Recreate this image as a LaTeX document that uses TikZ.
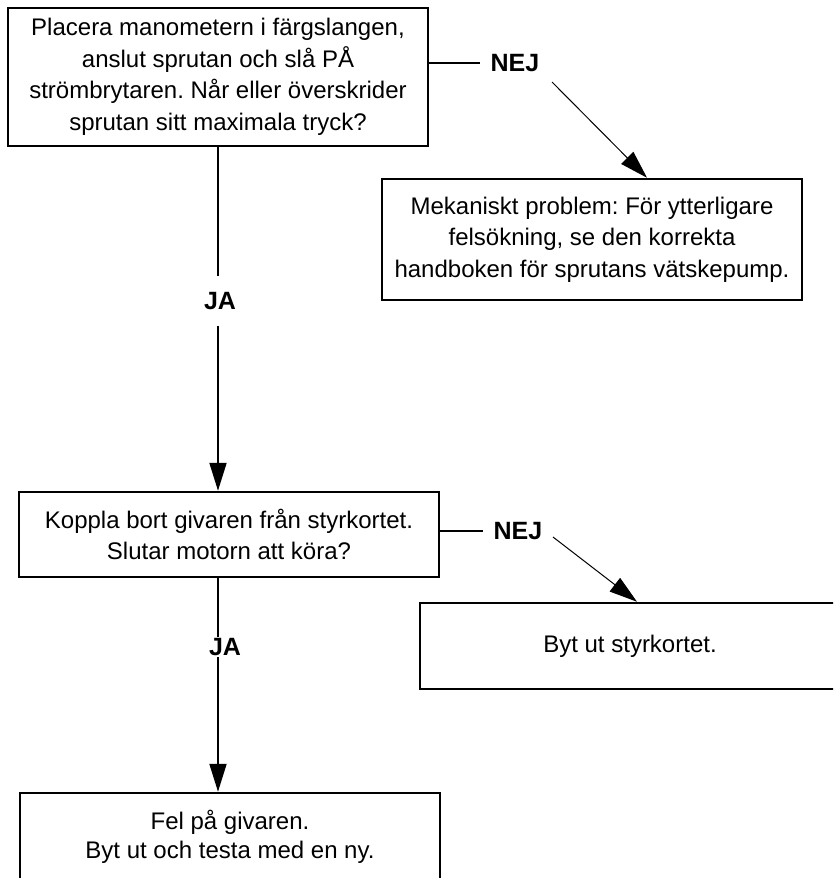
\documentclass[tikz,border=0pt]{standalone}
\usepackage{fontspec}
\setmainfont{Liberation Sans}
\usetikzlibrary{arrows.meta}
\frenchspacing
\begin{document}
\begin{tikzpicture}[x=1pt,y=-1pt,
  box/.style={draw, line width=2.5pt, minimum width=420pt, inner sep=0pt, align=center,
    font=\fontsize{24}{31.5}\selectfont},
  lbl/.style={font=\bfseries\fontsize{25}{30}\selectfont, inner ysep=0pt, inner xsep=10pt},
  conn/.style={line width=2pt},
  thin/.style={line width=1pt},
  arr/.style={-{Triangle[length=28pt,width=17pt]}},
]
\useasboundingbox (0,0) rectangle (833,878);
\clip (0,0) rectangle (833,878);

\node[box, minimum height=138pt] (top) at (218,77)
  {Placera manometern i färgslangen,\\anslut sprutan och slå PÅ\\strömbrytaren. Når eller överskrider\\sprutan sitt maximala tryck?};
\node[box, minimum height=121pt] (mek) at (592,239.5)
  {Mekaniskt problem: För ytterligare\\felsökning, se den korrekta\\handboken för sprutans vätskepump.};
\node[box, minimum height=85pt] (kop) at (229,534.5)
  {Koppla bort givaren från styrkortet.\\Slutar motorn att köra?};
\node[box, minimum height=86pt] (byt) at (630,646)
  {Byt ut styrkortet.};
\node[box, minimum height=88pt, font=\fontsize{24}{29}\selectfont] (fel) at (230,837)
  {Fel på givaren.\\Byt ut och testa med en ny.};

\node[lbl, minimum height=50pt] (ja1) at (220,301) {JA};
\node[lbl, minimum height=20pt] (ja2) at (225,647) {JA};
\node[lbl] (nej1) at (515,63) {NEJ};
\node[lbl] (nej2) at (518,531) {NEJ};

\coordinate (n1a) at (552,82);
\coordinate (n2a) at (553,537);

% JA branch 1
\draw[conn] (top.south) -- (top.south |- ja1.north);
\draw[conn, arr] (top.south |- ja1.south) -- (top.south |- kop.north);
% JA branch 2
\draw[conn] ([xshift=-11pt]kop.south) -- ([xshift=-11pt]kop.south |- ja2.north);
\draw[conn, arr] ([xshift=-11pt]kop.south |- ja2.south) -- ([xshift=-12pt]fel.north);
% NEJ branch 1
\draw[conn] (nej1.west -| top.east) -- (nej1.west);
\draw[thin, arr] (n1a) -- ([xshift=55pt]mek.north);
% NEJ branch 2
\draw[conn] (nej2.west -| kop.east) -- (nej2.west);
\draw[thin, arr] (n2a) -- ([xshift=7pt]byt.north);
\end{tikzpicture}
\end{document}
